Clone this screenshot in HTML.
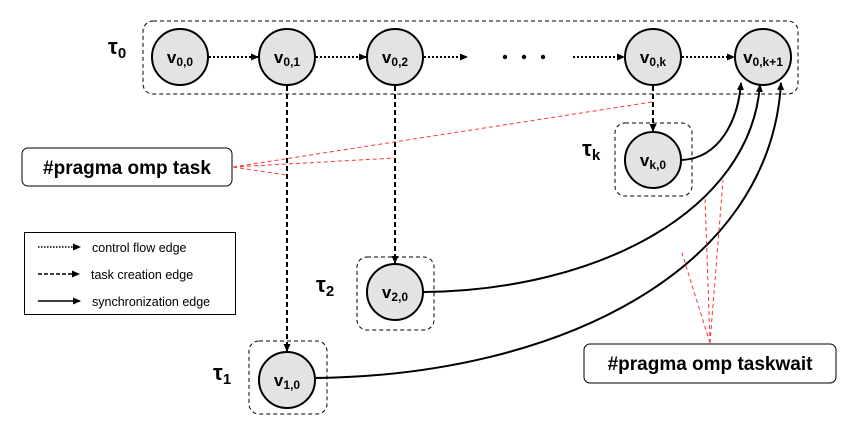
<!DOCTYPE html>
<html><head><style>
body{margin:0;background:#fff}
text{font-family:"Liberation Sans",Calibri,sans-serif}
</style></head><body>
<svg width="860" height="434" viewBox="0 0 860 434" xmlns="http://www.w3.org/2000/svg">
<defs>
<marker id="a" markerWidth="8" markerHeight="8" refX="7" refY="4" orient="auto" markerUnits="userSpaceOnUse"><path d="M0,0.5 L8,4 L0,7.5 z" fill="#000"/></marker>
</defs>
<g fill="none" stroke="#000" stroke-width="1" stroke-dasharray="4,3">
<rect x="143" y="21" width="655" height="73" rx="10"/>
<rect x="615" y="123" width="77" height="73" rx="10"/>
<rect x="357" y="257" width="77" height="73" rx="10"/>
<rect x="249" y="341" width="78" height="73" rx="10"/>
</g>
<!-- dotted control flow -->
<g stroke="#000" stroke-width="2" stroke-dasharray="2,2" marker-end="url(#a)">
<line x1="209" y1="57" x2="258" y2="57"/>
<line x1="316" y1="57" x2="366" y2="57"/>
<line x1="424" y1="57" x2="467" y2="57"/>
<line x1="573" y1="57" x2="624" y2="57"/>
<line x1="682" y1="57" x2="734" y2="57"/>
</g>
<g fill="#000"><circle cx="505" cy="57" r="2.2"/><circle cx="524" cy="57" r="2.2"/><circle cx="543" cy="57" r="2.2"/></g>
<!-- dashed task creation -->
<g stroke="#000" stroke-width="2" stroke-dasharray="5,3" marker-end="url(#a)">
<line x1="287" y1="86" x2="287" y2="351"/>
<line x1="395" y1="86" x2="395" y2="263"/>
<line x1="653" y1="86" x2="653" y2="131"/>
</g>
<!-- sync edges -->
<g fill="none" stroke="#000" stroke-width="2" marker-end="url(#a)">
<path d="M682,160 C720,158 738,120 741,83"/>
<path d="M424,292 C600,290 750,210 760,85"/>
<path d="M316,378 C560,375 770,270 781,83"/>
</g>
<!-- red -->
<g stroke="#f33" stroke-width="1" stroke-dasharray="4,3" fill="none">
<line x1="233" y1="167" x2="286" y2="175"/>
<line x1="233" y1="167" x2="395" y2="158"/>
<line x1="233" y1="167" x2="652" y2="102"/>
<line x1="710" y1="343" x2="682" y2="253"/>
<line x1="710" y1="343" x2="705" y2="197"/>
<line x1="710" y1="343" x2="723" y2="180"/>
</g>
<!-- nodes -->
<g fill="#e3e3e3" stroke="#000" stroke-width="2">
<circle cx="180" cy="57" r="28"/><circle cx="287" cy="57" r="28"/><circle cx="395" cy="57" r="28"/>
<circle cx="653" cy="57" r="28"/><circle cx="763" cy="57" r="28"/>
<circle cx="653" cy="160" r="28"/><circle cx="395" cy="292" r="28"/><circle cx="287" cy="380" r="28"/>
</g>
<g font-weight="bold" font-size="17" text-anchor="middle" fill="#000">
<text x="180" y="63">v<tspan font-size="12" dy="3">0,0</tspan></text>
<text x="287" y="63">v<tspan font-size="12" dy="3">0,1</tspan></text>
<text x="395" y="63">v<tspan font-size="12" dy="3">0,2</tspan></text>
<text x="653" y="63">v<tspan font-size="12" dy="3">0,k</tspan></text>
<text x="763" y="63">v<tspan font-size="12" dy="3">0,k+1</tspan></text>
<text x="653" y="166">v<tspan font-size="12" dy="3">k,0</tspan></text>
<text x="395" y="298">v<tspan font-size="12" dy="3">2,0</tspan></text>
<text x="287" y="386">v<tspan font-size="12" dy="3">1,0</tspan></text>
</g>
<g font-weight="bold" font-size="22" fill="#000">
<text x="108" y="54">τ<tspan font-size="15" dy="4">0</tspan></text>
<text x="582" y="156">τ<tspan font-size="15" dy="4">k</tspan></text>
<text x="316" y="292">τ<tspan font-size="15" dy="4">2</tspan></text>
<text x="213" y="380">τ<tspan font-size="15" dy="4">1</tspan></text>
</g>
<!-- callout boxes -->
<rect x="22" y="148" width="210" height="38" rx="6" fill="#fff" stroke="#000" stroke-width="1"/>
<text x="127" y="174" text-anchor="middle" font-weight="bold" font-size="19">#pragma omp task</text>
<rect x="584" y="344" width="252" height="39" rx="6" fill="#fff" stroke="#000" stroke-width="1"/>
<text x="710" y="370" text-anchor="middle" font-weight="bold" font-size="19">#pragma omp taskwait</text>
<!-- legend -->
<rect x="24.5" y="232.5" width="211" height="82" fill="#fff" stroke="#000" stroke-width="1"/>
<line x1="38" y1="247" x2="80" y2="247" stroke="#000" stroke-width="1.5" stroke-dasharray="1.5,1.5" marker-end="url(#a)"/>
<line x1="38" y1="274" x2="79" y2="274" stroke="#000" stroke-width="1.5" stroke-dasharray="4,2" marker-end="url(#a)"/>
<line x1="38" y1="301" x2="80" y2="301" stroke="#000" stroke-width="1.5" marker-end="url(#a)"/>
<g font-size="12.5" fill="#000">
<text x="92" y="252">control flow edge</text>
<text x="91" y="279">task creation edge</text>
<text x="92" y="306">synchronization edge</text>
</g>
</svg>
</body></html>
